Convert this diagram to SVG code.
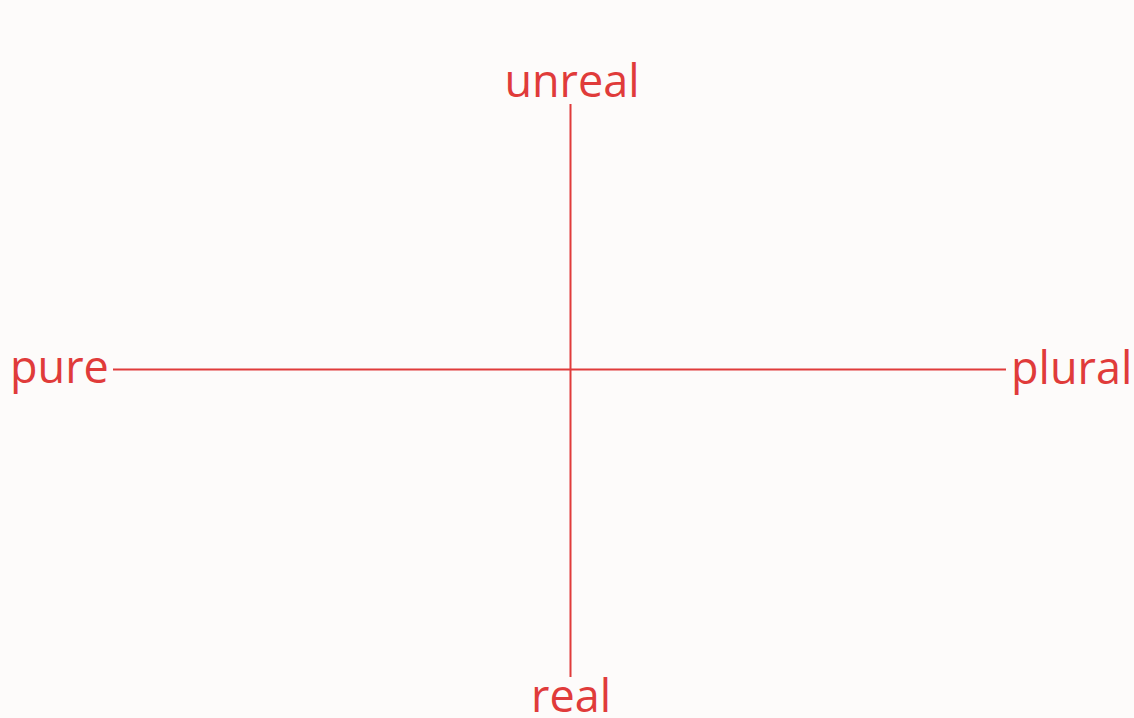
<svg xmlns="http://www.w3.org/2000/svg" width="1134" height="718" viewBox="0 0 1134 718">
<style>
.lbl{font-family:"Open Sans","Liberation Sans",sans-serif;font-size:45px;fill:#e03b3a}
.ax{stroke:#e03b3a;stroke-width:2;fill:none}
</style>
<rect width="1134" height="718" fill="#fdfbfa"/>
<g id="connectors">
<line class="ax" x1="570.5" y1="104" x2="570.5" y2="677"/>
<line class="ax" x1="113" y1="369.5" x2="1006" y2="369.5"/>
</g>
<g id="unreal"><text class="lbl" x="572" y="97" text-anchor="middle">unreal</text></g>
<g id="pure"><text class="lbl" x="10" y="383">pure</text></g>
<g id="plural"><text class="lbl" x="1011" y="384">plural</text></g>
<g id="real"><text class="lbl" x="571" y="712" text-anchor="middle">real</text></g>
</svg>
